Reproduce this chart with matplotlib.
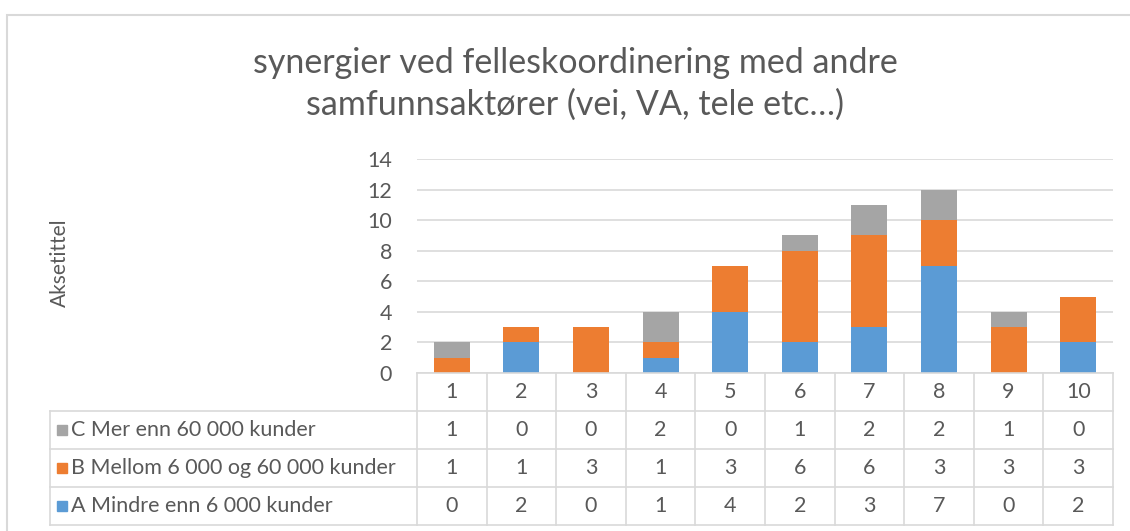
import matplotlib.pyplot as plt
from matplotlib.patches import Rectangle

plt.rcParams['font.family'] = ['Lato', 'DejaVu Sans']

categories = ['1', '2', '3', '4', '5', '6', '7', '8', '9', '10']
series_names = ['A Mindre enn 6 000 kunder',
                'B Mellom 6 000 og 60 000 kunder',
                'C Mer enn 60 000 kunder']
a_values = [0, 2, 0, 1, 4, 2, 3, 7, 0, 2]
b_values = [1, 1, 3, 1, 3, 6, 6, 3, 3, 3]
c_values = [1, 0, 0, 2, 0, 1, 2, 2, 1, 0]
colors = ['#5B9BD5', '#ED7D31', '#A5A5A5']
title = 'synergier ved felleskoordinering med andre\nsamfunnsaktører (vei, VA, tele etc…)'

W, H = 1130, 531
text_col = '#595959'
grid_col = '#D9D9D9'
fs = 15.5


def px(x0, y0, x1, y1):
    """pixel box (top-left origin) -> figure rect"""
    return [x0 / W, 1 - y1 / H, (x1 - x0) / W, (y1 - y0) / H]


fig = plt.figure(figsize=(W / 100, H / 100), dpi=100)
fig.patches.append(Rectangle((7 / W, -0.1), 1.2, 1 - 15 / H + 0.1,
                             transform=fig.transFigure, fill=False,
                             edgecolor=grid_col, lw=1.5))

fig.text(575 / W, 1 - 84 / H, title, ha='center', va='center',
         fontsize=24.5, color=text_col, linespacing=1.4)
fig.text(60 / W, 1 - 263 / H, 'Aksetittel', rotation=90, ha='center',
         va='center', fontsize=15, color=text_col)

# stacked columns
ax = fig.add_axes(px(417, 159, 1113, 373))
x = range(len(categories))
bottom = [0] * len(categories)
for vals, col in zip([a_values, b_values, c_values], colors):
    ax.bar(x, vals, width=0.52, bottom=bottom, color=col, zorder=3)
    bottom = [b + v for b, v in zip(bottom, vals)]
ax.set_xlim(-0.5, len(categories) - 0.5)
ax.set_ylim(0, 14)
ax.set_yticks(range(0, 15, 2))
ax.yaxis.grid(True, color=grid_col, lw=1.2)
ax.set_xticks([])
ax.tick_params(axis='y', length=0, pad=18, labelsize=fs, labelcolor=text_col)
for s in ax.spines.values():
    s.set_visible(False)

# data table under the plot
col_w = (1113 - 417) / len(categories)
hdr = (417 - 50) / col_w
tab = fig.add_axes(px(50, 373, 1113, 525))
tab.set_xlim(-0.5 - hdr, len(categories) - 0.5)
tab.set_ylim(0, 4)
tab.axis('off')
n = len(categories)
lk = dict(color=grid_col, lw=1.2, clip_on=False)
for yy in [0, 1, 2, 3]:
    tab.plot([-0.5 - hdr, n - 0.5], [yy, yy], **lk)
tab.plot([-0.5, n - 0.5], [4, 4], **lk)
tab.plot([-0.5 - hdr, -0.5 - hdr], [0, 3], **lk)
for i in range(n + 1):
    tab.plot([i - 0.5, i - 0.5], [0, 4], **lk)

for i, c in enumerate(categories):
    tab.text(i, 3.5, c, ha='center', va='center', fontsize=fs, color=text_col)
rows = [(c_values, series_names[2], colors[2]),
        (b_values, series_names[1], colors[1]),
        (a_values, series_names[0], colors[0])]
for r, (vals, name, col) in enumerate(rows):
    yc = 2.5 - r
    for i, v in enumerate(vals):
        tab.text(i, yc, str(v), ha='center', va='center', fontsize=fs,
                 color=text_col)
    tab.add_patch(Rectangle((-0.5 - hdr + 7 / col_w, yc - 0.13), 10 / col_w, 0.26,
                            color=col, clip_on=False))
    tab.text(-0.5 - hdr + 21 / col_w, yc, name, ha='left', va='center',
             fontsize=fs, color=text_col)

fig.savefig('out.png', dpi=100)
